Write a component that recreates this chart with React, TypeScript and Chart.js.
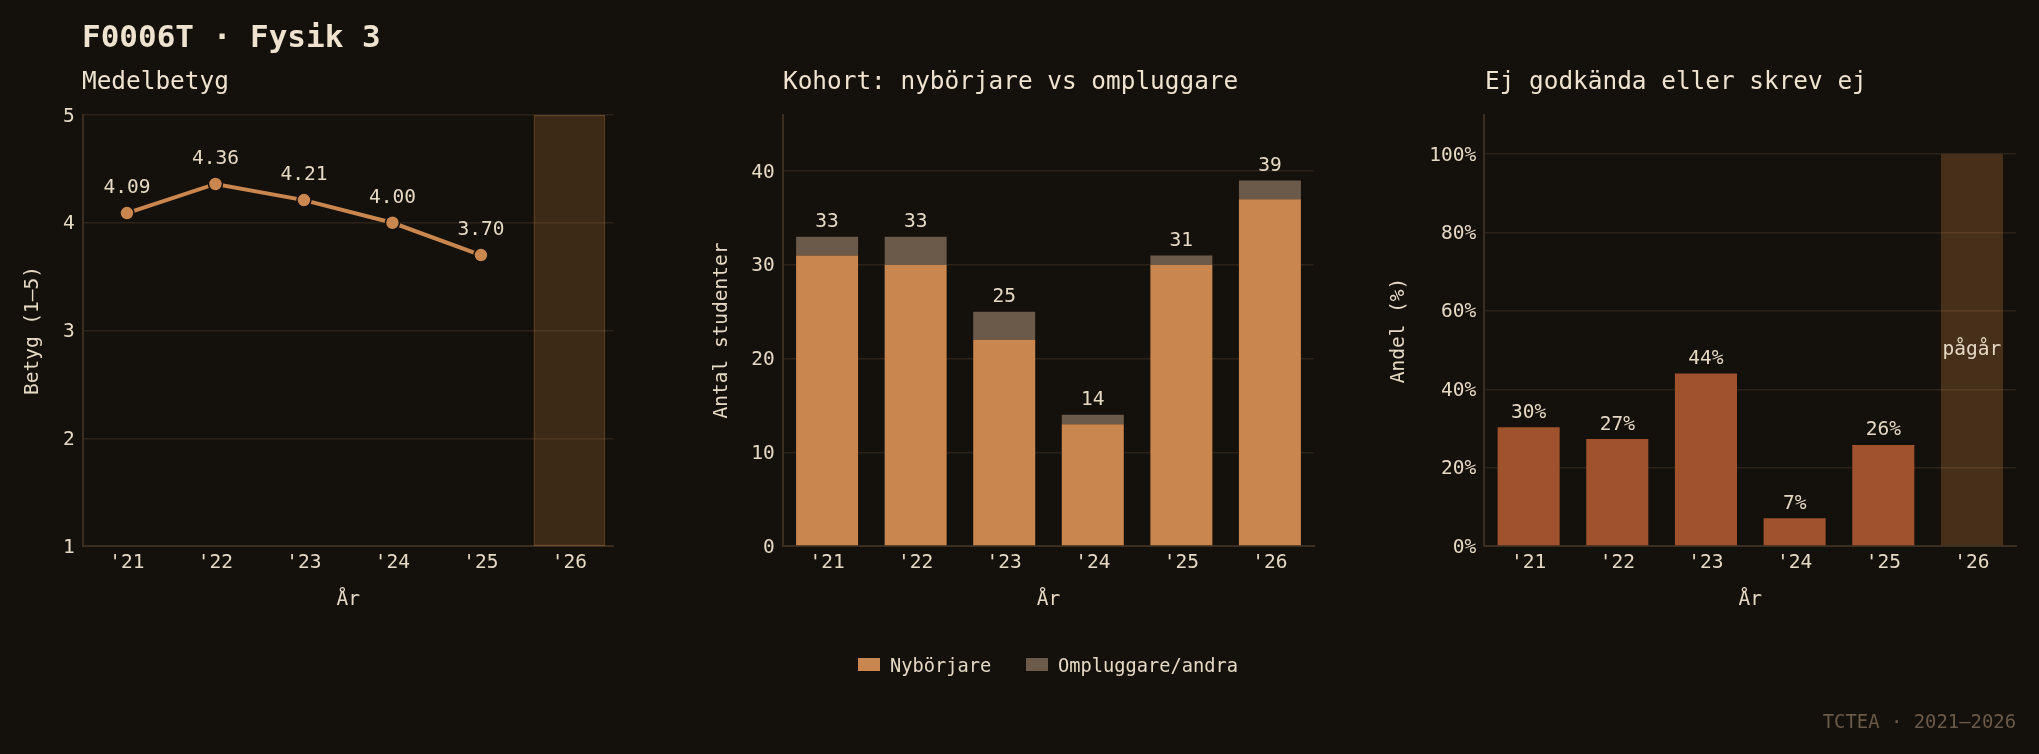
import React, { useEffect, useRef } from "react";
import { Chart, registerables } from "chart.js";

Chart.register(...registerables);

// ---- data ----
const years = ["'21", "'22", "'23", "'24", "'25", "'26"];
const medelbetyg = [4.09, 4.36, 4.21, 4.0, 3.7, null];
const pagarBand = [null, null, null, null, null, [1, 5]];
const nyborjare = [31, 30, 22, 13, 30, 37];
const ompluggare = [2, 3, 3, 1, 1, 2];
const ejGodkandaPct = [30.3, 27.3, 44.0, 7.1, 25.8, 100];
const pagarIndex = 5;
const pagarLabel = "pågår";
const legendLabels = ["Nybörjare", "Ompluggare/andra"];

// ---- style ----
const FONT = "'DejaVu Sans Mono', monospace";
const BG = "#14100b";
const TEXT = "#e6d9c4";
const TITLE = "#efe3cf";
const GRID = "#2c2219";
const SPINE = "#3b2e21";
const ORANGE = "#c9864f";
const GREY = "#6b5a4a";
const SIENNA = "#a0522d";
const FS = 19.5;

const xScale = () => ({
  type: "category",
  offset: true,
  grid: { display: false, drawTicks: false },
  border: { display: true, color: SPINE, width: 2 },
  ticks: { color: TEXT, font: { family: FONT, size: FS }, padding: 4.8, maxRotation: 0, autoSkip: false },
  title: { display: true, text: "År", color: TEXT, font: { family: FONT, size: FS }, padding: { top: 0, bottom: 4.3 } },
  afterFit: (s: any) => { s.height = 70; },
});

const yScale = (min: number, max: number, step: number, title: string, titlePad: number, width: number, cb?: (v: any) => string) => ({
  type: "linear",
  min,
  max,
  grid: { color: GRID, lineWidth: 1.5, drawTicks: false },
  border: { display: true, color: SPINE, width: 2 },
  ticks: {
    stepSize: step,
    includeBounds: false,
    color: TEXT,
    font: { family: FONT, size: FS },
    padding: 8,
    labelOffset: 1.5,
    callback: cb ? cb : (v: any) => String(v),
  },
  title: { display: true, text: title, color: TEXT, font: { family: FONT, size: FS }, padding: { top: titlePad, bottom: 0 } },
  afterFit: (s: any) => { s.width = width; },
});

const baseOptions = (padRight: number) => ({
  responsive: false,
  maintainAspectRatio: false,
  animation: false,
  devicePixelRatio: 1,
  layout: { padding: { top: 115, bottom: 138, left: 0, right: padRight } },
  plugins: { legend: { display: false }, tooltip: { enabled: false } },
});

function drawText(ctx: CanvasRenderingContext2D, text: string, x: number, y: number) {
  ctx.save();
  ctx.font = `${FS}px ${FONT}`;
  ctx.fillStyle = TEXT;
  ctx.textAlign = "center";
  ctx.textBaseline = "middle";
  ctx.fillText(text, x, y);
  ctx.restore();
}

function useChart(factory: (c: HTMLCanvasElement) => Chart) {
  const ref = useRef<HTMLCanvasElement | null>(null);
  useEffect(() => {
    if (!ref.current) return;
    const ch = factory(ref.current);
    return () => ch.destroy();
  }, []);
  return ref;
}

export default function App() {
  useEffect(() => {
    document.body.style.margin = "0";
    document.body.style.background = BG;
  }, []);

  const ref1 = useChart((c) =>
    new Chart(c, {
      type: "bar",
      data: {
        labels: years,
        datasets: [
          {
            type: "line",
            data: medelbetyg as any,
            borderColor: ORANGE,
            borderWidth: 4,
            pointRadius: 7,
            pointBackgroundColor: ORANGE,
            pointBorderColor: BG,
            pointBorderWidth: 1.5,
            spanGaps: false,
            order: 0,
          } as any,
          {
            type: "bar",
            data: pagarBand as any,
            backgroundColor: "rgba(205,133,63,0.22)",
            borderColor: "rgba(205,133,63,0.38)",
            borderWidth: 1.5,
            borderSkipped: false,
            barPercentage: 0.81,
            categoryPercentage: 1,
            order: 1,
          } as any,
        ],
      },
      options: {
        ...baseOptions(86.3),
        scales: {
          x: xScale(),
          y: yScale(1, 5, 1, "Betyg (1–5)", 21.3, 82.7),
        },
      } as any,
      plugins: [
        {
          id: "lbl1",
          afterDatasetsDraw(chart: any) {
            const meta = chart.getDatasetMeta(0);
            meta.data.forEach((pt: any, i: number) => {
              const v = medelbetyg[i];
              if (v == null) return;
              drawText(chart.ctx, v.toFixed(2), pt.x, pt.y - 25);
            });
          },
        },
      ],
    } as any)
  );

  const ref2 = useChart((c) =>
    new Chart(c, {
      type: "bar",
      data: {
        labels: years,
        datasets: [
          { label: legendLabels[0], data: nyborjare, backgroundColor: ORANGE, barPercentage: 0.7, categoryPercentage: 1 },
          { label: legendLabels[1], data: ompluggare, backgroundColor: GREY, barPercentage: 0.7, categoryPercentage: 1 },
        ],
      },
      options: {
        ...baseOptions(65.8),
        scales: {
          x: { ...xScale(), stacked: true },
          y: { ...yScale(0, 46, 10, "Antal studenter", 10, 82.8), stacked: true },
        },
      } as any,
      plugins: [
        {
          id: "lbl2",
          afterDatasetsDraw(chart: any) {
            const top = chart.getDatasetMeta(1);
            top.data.forEach((bar: any, i: number) => {
              drawText(chart.ctx, String(nyborjare[i] + ompluggare[i]), bar.x, bar.y - 14.5);
            });
          },
        },
      ],
    } as any)
  );

  const ref3 = useChart((c) =>
    new Chart(c, {
      type: "bar",
      data: {
        labels: years,
        datasets: [
          {
            data: ejGodkandaPct,
            backgroundColor: ejGodkandaPct.map((_, i) => (i === pagarIndex ? "rgba(205,133,63,0.28)" : SIENNA)),
            barPercentage: 0.7,
            categoryPercentage: 1,
          },
        ],
      },
      options: {
        ...baseOptions(22.7),
        scales: {
          x: xScale(),
          y: yScale(0, 110, 20, "Andel (%)", 7.3, 104.3, (v: any) => `${v}%`),
        },
      } as any,
      plugins: [
        {
          id: "lbl3",
          afterDatasetsDraw(chart: any) {
            const meta = chart.getDatasetMeta(0);
            meta.data.forEach((bar: any, i: number) => {
              if (i === pagarIndex) {
                drawText(chart.ctx, pagarLabel, bar.x, chart.scales.y.getPixelForValue(50));
              } else {
                drawText(chart.ctx, `${Math.round(ejGodkandaPct[i])}%`, bar.x, bar.y - 14.5);
              }
            });
          },
        },
      ],
    } as any)
  );

  const abs = (s: React.CSSProperties): React.CSSProperties => ({ position: "absolute", ...s });
  const txt = (size: number, color: string, bold = false): React.CSSProperties => ({
    fontFamily: FONT,
    fontSize: size,
    lineHeight: `${size}px`,
    color,
    fontWeight: bold ? "bold" : "normal",
    whiteSpace: "pre",
  });

  return (
    <div style={abs({ left: 0, top: 0, width: 2039, height: 754, background: BG, overflow: "hidden" })}>
      <canvas ref={ref1} width={700} height={754} style={abs({ left: 0, top: 0 })} />
      <canvas ref={ref2} width={680} height={754} style={abs({ left: 700, top: 0 })} />
      <canvas ref={ref3} width={659} height={754} style={abs({ left: 1380, top: 0 })} />

      <div style={abs({ left: 82, top: 20.5, ...txt(31, TITLE, true) })}>F0006T · Fysik 3</div>
      <div style={abs({ left: 82, top: 68.7, ...txt(24.4, TITLE) })}>Medelbetyg</div>
      <div style={abs({ left: 783, top: 68.7, ...txt(24.4, TITLE) })}>Kohort: nybörjare vs ompluggare</div>
      <div style={abs({ left: 1485, top: 68.7, ...txt(24.4, TITLE) })}>Ej godkända eller skrev ej</div>

      <div style={abs({ left: 858, top: 658, width: 22, height: 13, background: ORANGE })} />
      <div style={abs({ left: 890, top: 656.5, ...txt(18.7, TEXT) })}>{legendLabels[0]}</div>
      <div style={abs({ left: 1026, top: 658, width: 22, height: 13, background: GREY })} />
      <div style={abs({ left: 1058, top: 656.5, ...txt(18.7, TEXT) })}>{legendLabels[1]}</div>

      <div style={abs({ right: 23, top: 711.7, ...txt(18.9, "#6b5a48") })}>TCTEA · 2021–2026</div>
    </div>
  );
}
